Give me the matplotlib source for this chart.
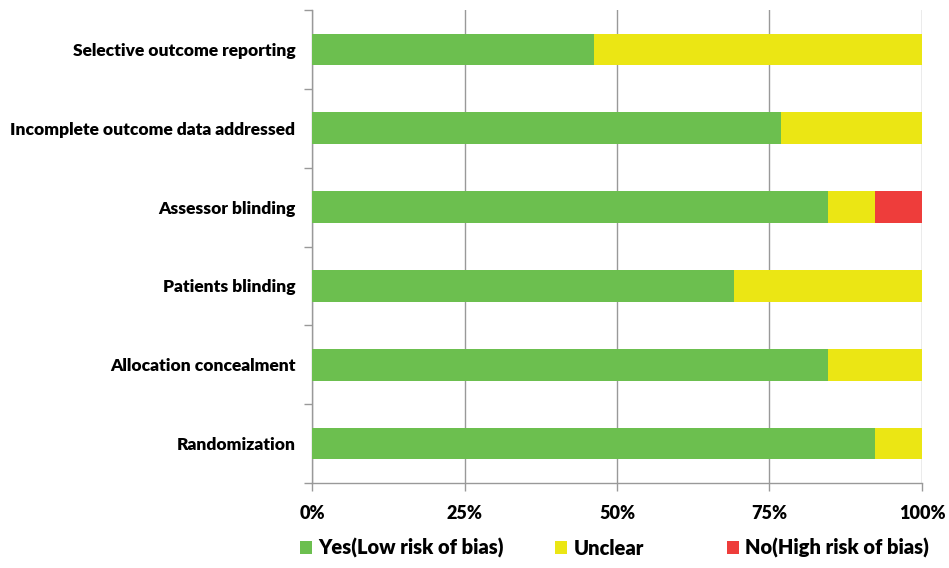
import matplotlib.pyplot as plt
from matplotlib.patches import Patch

plt.rcParams['font.family'] = ['Lato', 'DejaVu Sans']
plt.rcParams['font.weight'] = 'bold'

# categories bottom -> top
domains = ["Randomization", "Allocation concealment", "Patients blinding",
           "Assessor blinding", "Incomplete outcome data addressed",
           "Selective outcome reporting"]
low_risk = [92.3, 84.6, 69.2, 84.6, 76.9, 46.2]
unclear = [7.7, 15.4, 30.8, 7.7, 23.1, 53.8]
high_risk = [0, 0, 0, 7.7, 0, 0]

labels = ["Yes(Low risk of bias)", "Unclear", "No(High risk of bias)"]
colors = ["#6cbf4f", "#ebe614", "#ee3d3b"]

fig = plt.figure(figsize=(9.49, 5.68), dpi=100)
ax = fig.add_axes([0.3288, 0.1496, 0.6427, 0.8328])

y = list(range(len(domains)))
left2 = [a + b for a, b in zip(low_risk, unclear)]
ax.barh(y, low_risk, height=0.4, color=colors[0], zorder=3)
ax.barh(y, unclear, left=low_risk, height=0.4, color=colors[1], zorder=3)
ax.barh(y, high_risk, left=left2, height=0.4, color=colors[2], zorder=3)

ax.set_xlim(0, 100)
ax.set_ylim(-0.5, len(domains) - 0.5)
ax.set_xticks([0, 25, 50, 75, 100])
ax.set_xticklabels(["0%", "25%", "50%", "75%", "100%"], fontsize=13, fontweight='heavy')
ax.set_yticks(y)
ax.set_yticklabels(domains, fontsize=12.5, fontweight='heavy')
ax.set_yticks([i - 0.5 for i in range(len(domains) + 1)], minor=True)
ax.tick_params(axis='y', which='major', length=0, pad=12)
ax.tick_params(axis='y', which='minor', length=6, color='#999999', width=1)
ax.tick_params(axis='x', length=6, color='#999999', width=1, pad=10)

ax.grid(axis='x', color='#999999', linewidth=1, zorder=0)
for s in ['top', 'right']:
    ax.spines[s].set_visible(False)
for s in ['left', 'bottom']:
    ax.spines[s].set_color('#999999')
    ax.spines[s].set_linewidth(1)

# legend entries placed one by one (uneven spacing like the original)
for c, lab, x0 in zip(colors, labels, [0.316, 0.585, 0.766]):
    fig.legend([Patch(facecolor=c, edgecolor='none')], [lab], loc='center left',
               bbox_to_anchor=(x0, 0.035), frameon=False, borderpad=0, borderaxespad=0,
               handlelength=0.6, handleheight=0.6, handletextpad=0.3,
               prop={'weight': 'heavy', 'size': 14.5})

fig.savefig("out.png", dpi=100)
